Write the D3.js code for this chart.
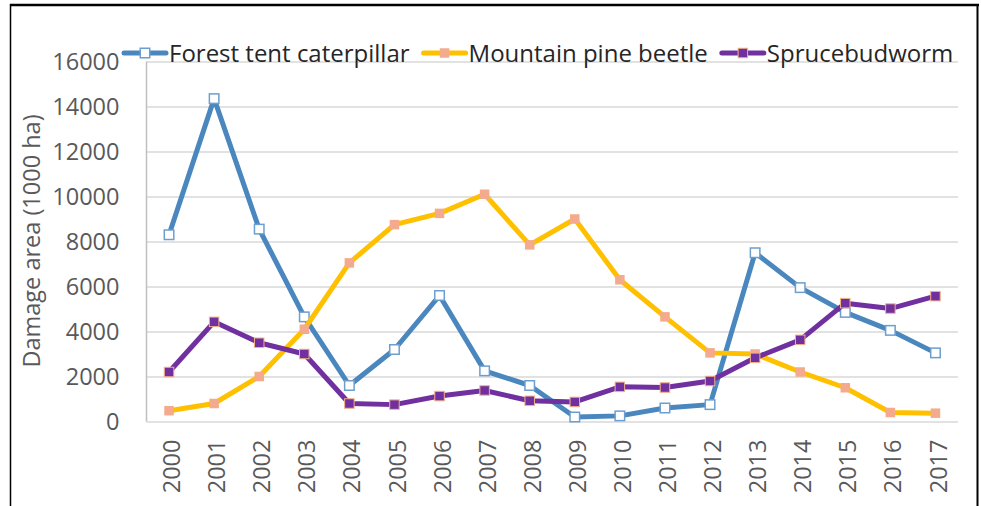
<!DOCTYPE html>
<html>
<head>
<meta charset="utf-8">
<script src="https://cdn.jsdelivr.net/npm/d3@7"></script>
<style>
  html, body { margin: 0; padding: 0; background: #fff; }
  svg { display: block; font-family: "Open Sans", sans-serif; }
</style>
</head>
<body>
<svg id="chart" width="981" height="506"></svg>
<script>
// ---- data ----
const years = ["2000","2001","2002","2003","2004","2005","2006","2007","2008",
               "2009","2010","2011","2012","2013","2014","2015","2016","2017"];
const forestTentCaterpillar = [8300,14350,8550,4650,1600,3200,5600,2250,1600,
                               200,250,600,750,7500,5950,4850,4050,3050];
const mountainPineBeetle = [480,800,2000,4100,7050,8750,9250,10100,7850,
                            9000,6300,4650,3050,3000,2200,1500,400,370];
const sprucebudworm = [2200,4430,3500,3000,800,750,1130,1380,920,
                       870,1540,1510,1800,2830,3630,5260,5020,5570];
const seriesNames = ["Forest tent caterpillar", "Mountain pine beetle", "Sprucebudworm"];
const yTicks = [0,2000,4000,6000,8000,10000,12000,14000,16000];
const yTitle = "Damage area (1000 ha)";

// ---- styles ----
const styles = [
  { line: "#4A87BE", fill: "#ffffff", stroke: "#6C9FD0", sw: 1.5 },
  { line: "#FFC000", fill: "#F4AA8C", stroke: "#F4AA8C", sw: 0 },
  { line: "#7030A0", fill: "#7030A0", stroke: "#F4B183", sw: 1 }
];
const seriesData = [forestTentCaterpillar, mountainPineBeetle, sprucebudworm];

const svg = d3.select("#chart");
const W = 981, H = 506;
const plot = { left: 146.5, right: 958, top: 61.5, bottom: 421.5 };

// frame
svg.append("line").attr("x1", 10).attr("x2", 979).attr("y1", 5).attr("y2", 5)
  .attr("stroke", "#000").attr("stroke-width", 2.5);
svg.append("line").attr("x1", 10.5).attr("x2", 10.5).attr("y1", 4).attr("y2", H)
  .attr("stroke", "#000").attr("stroke-width", 1.5);
svg.append("line").attr("x1", 977.5).attr("x2", 977.5).attr("y1", 4).attr("y2", H)
  .attr("stroke", "#000").attr("stroke-width", 2);

const x = d3.scalePoint().domain(years).range([plot.left, plot.right]).padding(0.5);
const y = d3.scaleLinear().domain([0, 16000]).range([plot.bottom, plot.top]);

// gridlines
const yAxis = d3.axisLeft(y).tickValues(yTicks).tickFormat(d3.format("d"))
  .tickSize(-(plot.right - plot.left)).tickPadding(27);
const gy = svg.append("g").attr("transform", `translate(${plot.left},0)`).call(yAxis);
gy.select(".domain").remove();
gy.selectAll(".tick line").attr("stroke", "#d9d9d9").attr("stroke-width", 1.5);
gy.selectAll(".tick text").attr("fill", "#595959").attr("font-size", "23.5px")
  .attr("font-family", "Open Sans, sans-serif").attr("dy", "0.36em");

// vertical axis line
svg.append("line").attr("x1", plot.left).attr("x2", plot.left)
  .attr("y1", plot.top).attr("y2", plot.bottom)
  .attr("stroke", "#bfbfbf").attr("stroke-width", 1.5);

// x axis labels
const xAxis = d3.axisBottom(x).tickSize(0).tickPadding(0);
const gx = svg.append("g").attr("transform", `translate(0,${plot.bottom})`).call(xAxis);
gx.select(".domain").remove();
gx.selectAll(".tick text")
  .attr("fill", "#595959").attr("font-size", "23.5px").attr("font-family", "Open Sans, sans-serif")
  .attr("text-anchor", "end")
  .attr("transform", "rotate(-90)")
  .attr("x", -18).attr("y", 0).attr("dy", "0.45em");

// y title
svg.append("text")
  .attr("transform", `translate(40,241) rotate(-90)`)
  .attr("text-anchor", "middle")
  .attr("fill", "#595959").attr("font-size", "23.5px")
  .text(yTitle);

// lines
const lineGen = d3.line().x((d, i) => x(years[i])).y(d => y(d));
const ms = 9.5;
seriesData.forEach((vals, k) => {
  const st = styles[k];
  const g = svg.append("g");
  g.append("path").datum(vals).attr("d", lineGen)
    .attr("fill", "none").attr("stroke", st.line).attr("stroke-width", 5)
    .attr("stroke-linejoin", "round").attr("stroke-linecap", "round");
  g.selectAll("rect").data(vals).enter().append("rect")
    .attr("x", (d, i) => x(years[i]) - ms / 2)
    .attr("y", d => y(d) - ms / 2)
    .attr("width", ms).attr("height", ms)
    .attr("fill", st.fill)
    .attr("stroke", st.sw ? st.stroke : "none")
    .attr("stroke-width", st.sw);
});

// legend
const legend = svg.append("g").attr("transform", "translate(0,53)");
let lx = 124;
seriesNames.forEach((name, k) => {
  const st = styles[k];
  const item = legend.append("g").attr("transform", `translate(${lx},0)`);
  item.append("line").attr("x1", 0).attr("x2", 42).attr("y1", 0).attr("y2", 0)
    .attr("stroke", st.line).attr("stroke-width", 5).attr("stroke-linecap", "round");
  item.append("rect").attr("x", 21 - ms / 2).attr("y", -ms / 2).attr("width", ms).attr("height", ms)
    .attr("fill", st.fill).attr("stroke", st.sw ? st.stroke : "none").attr("stroke-width", st.sw);
  const t = item.append("text").attr("x", 45).attr("y", 0).attr("dy", "0.36em")
    .attr("fill", "#262626").attr("font-size", "24px").text(name);
  const tw = t.node().getComputedTextLength();
  lx += 45 + tw + 14;
});
</script>
</body>
</html>
